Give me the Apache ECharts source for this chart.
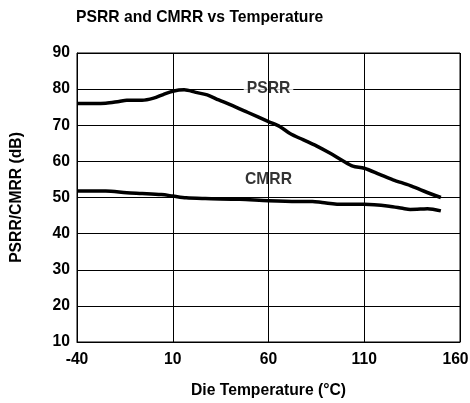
<!DOCTYPE html>
<html>
<head>
<meta charset="utf-8">
<script src="https://cdn.jsdelivr.net/npm/echarts@6/dist/echarts.min.js"></script>
<style>
  html, body { margin: 0; padding: 0; background: #ffffff; }
  #chart { width: 470px; height: 403px; }
</style>
</head>
<body>
<div id="chart"></div>
<script>
// Die temperature (°C) sample points and measured rejection ratios (dB)
const psrrTemp = [-40, -25, -18, -14, -6, 0, 5, 10, 16, 22, 28, 34, 40, 49, 60, 66, 71, 78, 85, 92, 99, 104, 110, 118, 125, 134, 141, 150];
const psrrDb   = [76.0, 76.1, 76.6, 76.9, 76.9, 77.5, 78.5, 79.4, 79.8, 79.1, 78.4, 77.0, 75.7, 73.6, 71.0, 69.6, 67.8, 66.0, 64.3, 62.3, 60.1, 58.7, 58.1, 56.4, 54.9, 53.3, 51.8, 50.0];

const cmrrTemp = [-40, -25, -14, -6, 4, 10, 17, 27, 45, 60, 75, 83, 88, 99, 110, 123, 130, 134, 140, 143, 150];
const cmrrDb   = [51.8, 51.8, 51.3, 51.1, 50.8, 50.4, 49.9, 49.7, 49.5, 49.1, 48.9, 48.9, 48.6, 48.1, 48.1, 47.6, 47.0, 46.7, 46.8, 46.9, 46.3];

// In-plot curve names: [temperature, dB, text]
const curveLabels = [[60, 80, 'PSRR'], [60, 55, 'CMRR']];

// Axis ranges and tick values
const tempMin = -40, tempMax = 160;
const tempTicks = [-40, 10, 60, 110, 160];
const dbMin = 10, dbMax = 90, dbStep = 10;

const FONT = "'Liberation Sans', Arial, Helvetica, sans-serif";
const FS = 15.7;
const boldText = { fontFamily: FONT, fontSize: FS, fontWeight: 'bold', color: '#000' };

const zip = (xs, ys) => xs.map((x, i) => [x, ys[i]]);

const chart = echarts.init(document.getElementById('chart'), null, { renderer: 'canvas' });

chart.setOption({
  animation: false,
  backgroundColor: '#ffffff',
  title: {
    text: 'PSRR and CMRR vs Temperature',
    left: 76,
    top: 10,
    padding: 0,
    textStyle: boldText
  },
  grid: {
    left: 77, right: 10, top: 53, bottom: 61,
    outerBoundsMode: 'none',
    containLabel: false,
    show: true, borderColor: '#000', borderWidth: 1
  },
  xAxis: {
    type: 'value',
    min: tempMin, max: tempMax,
    name: 'Die Temperature (°C)',
    nameLocation: 'middle',
    nameGap: 41,
    nameTextStyle: boldText,
    axisLine: { show: true, onZero: false, lineStyle: { color: '#000', width: 1 } },
    axisTick: { show: false, customValues: tempTicks },
    axisLabel: Object.assign({
      margin: 10,
      customValues: tempTicks,
      // keep the last label inside the canvas edge
      formatter: v => (v === tempMax ? '{edge|' + v + '}' : String(v)),
      rich: { edge: Object.assign({ padding: [0, 9, 0, 0] }, boldText) }
    }, boldText),
    splitLine: { show: false }
  },
  yAxis: {
    type: 'value',
    min: dbMin, max: dbMax, interval: dbStep,
    name: 'PSRR/CMRR (dB)',
    nameLocation: 'middle',
    nameGap: 52,
    nameRotate: 90,
    nameTextStyle: boldText,
    axisLine: { show: true, onZero: false, lineStyle: { color: '#000', width: 1 } },
    axisTick: { show: false },
    axisLabel: Object.assign({ margin: 7 }, boldText),
    splitLine: { show: true, lineStyle: { color: '#000', width: 1 } }
  },
  series: [
    {
      // vertical grid lines at the temperature ticks
      name: 'tempGrid',
      type: 'line',
      data: [],
      silent: true,
      z: 1,
      markLine: {
        silent: true,
        symbol: ['none', 'none'],
        label: { show: false },
        lineStyle: { color: '#000', width: 1, type: 'solid' },
        emphasis: { disabled: true },
        data: tempTicks.map(t => ({ xAxis: t }))
      }
    },
    {
      name: 'PSRR',
      type: 'line',
      data: zip(psrrTemp, psrrDb),
      smooth: 0.3,
      showSymbol: false,
      lineStyle: { color: '#000', width: 3.5 },
      z: 3
    },
    {
      name: 'CMRR',
      type: 'line',
      data: zip(cmrrTemp, cmrrDb),
      smooth: 0.3,
      showSymbol: false,
      lineStyle: { color: '#000', width: 3.5 },
      z: 3
    },
    {
      name: 'labels',
      type: 'scatter',
      data: curveLabels.map(d => ({ value: [d[0], d[1]], name: d[2] })),
      symbolSize: 0,
      silent: true,
      z: 2,
      label: Object.assign({
        show: true,
        position: 'inside',
        formatter: p => p.name,
        backgroundColor: '#ffffff',
        padding: [8, 3, 8, 3]
      }, boldText)
    }
  ]
});
</script>
</body>
</html>
